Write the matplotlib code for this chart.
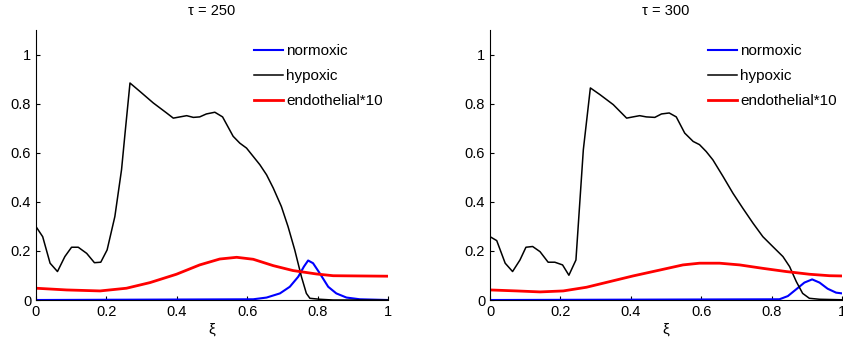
import matplotlib
matplotlib.use('Agg')
import matplotlib.pyplot as plt
import numpy as np
from matplotlib.ticker import FuncFormatter

plt.rcParams['font.family'] = ['Liberation Sans', 'DejaVu Sans']

# tau = 250
x_hyp_250 = [0, 0.019, 0.040, 0.061, 0.082, 0.101, 0.120, 0.144, 0.166, 0.184, 0.202, 0.224,
             0.243, 0.253, 0.267, 0.295, 0.333, 0.371, 0.390, 0.409, 0.428, 0.447, 0.465,
             0.484, 0.508, 0.530, 0.560, 0.579, 0.598, 0.617, 0.636, 0.655, 0.674, 0.697,
             0.716, 0.735, 0.754, 0.768, 0.778, 0.806, 0.844, 1.0]
y_hyp_250 = [0.299, 0.258, 0.150, 0.116, 0.177, 0.215, 0.215, 0.190, 0.152, 0.154, 0.204, 0.340,
             0.531, 0.680, 0.884, 0.850, 0.803, 0.762, 0.741, 0.746, 0.751, 0.744, 0.746,
             0.758, 0.765, 0.746, 0.667, 0.639, 0.619, 0.585, 0.551, 0.510, 0.456, 0.381,
             0.299, 0.204, 0.095, 0.027, 0.007, 0.003, 0.0, 0.0]
x_norm_250 = [0, 0.617, 0.655, 0.693, 0.721, 0.745, 0.761, 0.773, 0.787, 0.806, 0.830, 0.853,
              0.882, 0.920, 1.0]
y_norm_250 = [0.0, 0.003, 0.010, 0.027, 0.054, 0.095, 0.136, 0.161, 0.150, 0.109, 0.054, 0.027,
              0.010, 0.003, 0.0]
x_endo_250 = [0, 0.087, 0.182, 0.257, 0.324, 0.399, 0.465, 0.522, 0.570, 0.617, 0.674, 0.730,
              0.797, 0.844, 0.920, 1.0]
y_endo_250 = [0.048, 0.041, 0.037, 0.048, 0.071, 0.105, 0.143, 0.167, 0.174, 0.166, 0.140, 0.120,
              0.106, 0.099, 0.098, 0.097]

# tau = 300
x_hyp_300 = [0, 0.019, 0.043, 0.064, 0.085, 0.102, 0.121, 0.142, 0.165, 0.184, 0.206, 0.224,
             0.244, 0.265, 0.285, 0.312, 0.350, 0.388, 0.406, 0.425, 0.444, 0.468, 0.487,
             0.509, 0.529, 0.553, 0.577, 0.595, 0.614, 0.633, 0.662, 0.690, 0.718, 0.747,
             0.775, 0.803, 0.832, 0.851, 0.870, 0.888, 0.907, 0.936, 1.0]
y_hyp_300 = [0.258, 0.242, 0.150, 0.116, 0.163, 0.215, 0.218, 0.197, 0.154, 0.154, 0.143, 0.101,
             0.163, 0.612, 0.864, 0.837, 0.796, 0.741, 0.746, 0.751, 0.746, 0.744, 0.758,
             0.762, 0.746, 0.680, 0.646, 0.633, 0.605, 0.571, 0.503, 0.435, 0.374, 0.313,
             0.258, 0.218, 0.177, 0.136, 0.075, 0.027, 0.007, 0.003, 0.001]
x_norm_300 = [0, 0.822, 0.846, 0.870, 0.893, 0.915, 0.936, 0.959, 0.983, 1.0]
y_norm_300 = [0.0, 0.003, 0.016, 0.044, 0.071, 0.084, 0.071, 0.046, 0.030, 0.027]
x_endo_300 = [0, 0.076, 0.142, 0.208, 0.274, 0.340, 0.406, 0.482, 0.548, 0.595, 0.652, 0.709,
              0.775, 0.841, 0.907, 0.964, 1.0]
y_endo_300 = [0.041, 0.037, 0.033, 0.037, 0.052, 0.075, 0.098, 0.122, 0.143, 0.150, 0.150, 0.143,
              0.129, 0.116, 0.105, 0.099, 0.098]

panels = [
    ('\u03c4 = 250', x_norm_250, y_norm_250, x_hyp_250, y_hyp_250, x_endo_250, y_endo_250),
    ('\u03c4 = 300', x_norm_300, y_norm_300, x_hyp_300, y_hyp_300, x_endo_300, y_endo_300),
]
ticks = [0, 0.2, 0.4, 0.6, 0.8, 1]
fmt = FuncFormatter(lambda v, p: '%g' % round(v, 2))

fig = plt.figure(figsize=(8.43, 3.41), dpi=100)
lefts = [0.0427, 0.5813]
for left, (title, xn, yn, xh, yh, xe, ye) in zip(lefts, panels):
    ax = fig.add_axes([left, 0.1202, 0.4176, 0.7918])
    ax.plot(xn, yn, color='#0000ff', lw=1.5, label='normoxic')
    ax.plot(xh, yh, color='black', lw=1.1, label='hypoxic')
    ax.plot(xe, ye, color='#ff0000', lw=2.0, label='endothelial*10')
    ax.set_xlim(0, 1)
    ax.set_ylim(0, 1.1)
    ax.set_xticks(ticks)
    ax.set_yticks(ticks)
    ax.xaxis.set_major_formatter(fmt)
    ax.yaxis.set_major_formatter(fmt)
    ax.tick_params(direction='in', length=3, labelsize=10.5, width=0.8)
    ax.spines['top'].set_visible(False)
    ax.spines['right'].set_visible(False)
    ax.set_xlabel('\u03be', fontsize=11, labelpad=3)
    ax.set_title(title, fontsize=10.5, pad=11)
    ax.legend(loc='upper left', bbox_to_anchor=(0.589, 0.988), frameon=False, fontsize=11,
              handlelength=1.9, handletextpad=0.2, labelspacing=0.72, borderaxespad=0.3)

fig.savefig('out.png', dpi=100)
